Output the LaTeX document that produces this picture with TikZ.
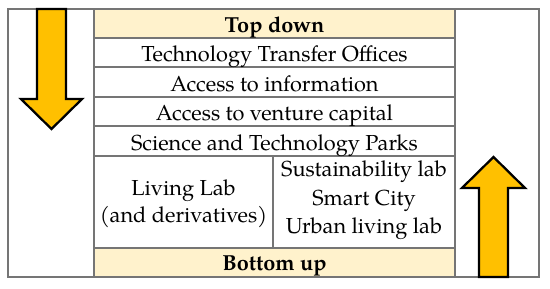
\documentclass[tikz,border=0pt]{standalone}
\usepackage{fontspec}
\setmainfont{TeX Gyre Pagella}
\usepackage{tikz}
\usetikzlibrary{positioning}
\definecolor{headfill}{HTML}{FFF2CC}
\definecolor{arrowfill}{HTML}{FFC000}
\definecolor{rulegray}{HTML}{757575}
\tikzset{>=latex}
\tikzset{font=\fontsize{16.3}{21}\selectfont}
\tikzset{rule/.style={draw=rulegray, line width=1.1pt},
  bigarrow/.style={draw=black, line width=1.7pt, fill=arrowfill, line join=miter},
  celltext/.style={inner sep=0pt, anchor=base}}

\begin{document}
\begin{tikzpicture}[x=0.75pt, y=-0.75pt]
          \useasboundingbox (0,0) rectangle (550,289);
          % header and footer rows
          \fill[headfill] (94,9) rectangle (455,38);
          \fill[headfill] (94,248) rectangle (455,277);
          % outer frame and table rules
          \draw[rule] (8,9) rectangle (539,277);
          \draw[rule] (94,9) -- (94,277);
          \draw[rule] (455,9) -- (455,277);
          \foreach \y in {38,67,97,126,156,248}
            \draw[rule] (94,\y) -- (455,\y);
          \draw[rule] (273,156) -- (273,248);
          % texts, placed on their baselines
          \node[celltext] (top) at (274.5,32) {\textbf{Top down}};
          \foreach \y/\name/\txt in {61.5/tto/Technology Transfer Offices,
              91/info/Access to information,
              120.5/venture/Access to venture capital,
              150/parks/Science and Technology Parks}
            \node[celltext] (\name) at (274.5,\y) {\txt};
          \node[celltext] (living) at (183.5,195) {Living Lab};
          \node[celltext] (deriv) at (183.5,222.5) {(and derivatives)};
          \node[celltext] (sust) at (364,176.5) {Sustainability lab};
          \node[celltext] (smart) at (364,205) {Smart City};
          \node[celltext] (urban) at (364,233) {Urban living lab};
          \node[celltext] (bottom) at (274.5,270.5) {\textbf{Bottom up}};
          % arrows
          \draw[bigarrow] (37,9) -- (66,9) -- (66,99) -- (82,99) -- (51.5,129)
            -- (21,99) -- (37,99) -- cycle;
          \draw[bigarrow] (479,277) -- (508,277) -- (508,188) -- (525,188)
            -- (493.5,157) -- (462,188) -- (479,188) -- cycle;
        \end{tikzpicture}
\end{document}
